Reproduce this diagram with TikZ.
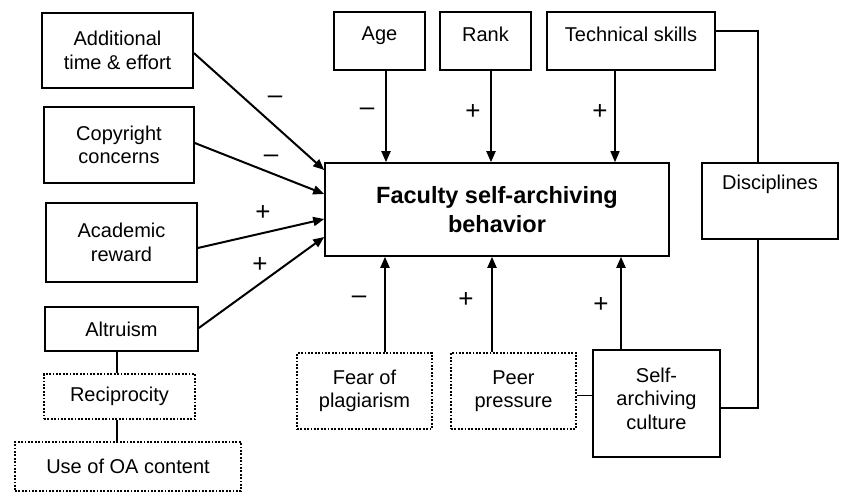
\documentclass[tikz,border=0pt]{standalone}
\usepackage{fontspec}
\setmainfont{Liberation Sans}
\usetikzlibrary{arrows.meta}
\begin{document}
\begin{tikzpicture}[x=1pt,y=-1pt,
  box/.style={draw,line width=1.6pt,rectangle,inner sep=0pt,align=center,font=\fontsize{20}{23.5}\selectfont},
  dbox/.style={box,line width=2.2pt,dash pattern=on 1.8pt off 1.6pt},
  arr/.style={line width=2pt,-{Triangle[length=11pt,width=9pt]}},
  tarr/.style={line width=1.5pt,-{Triangle[length=11pt,width=9pt]}},
  link/.style={line width=1.4pt},
  sgn/.style={inner sep=0pt,font=\fontsize{26}{26}\selectfont}]
\useasboundingbox (0,0) rectangle (843,493);
\node[box,minimum width=151pt,minimum height=75pt] (add) at (117.5,50.5) {Additional\\time \& effort};
\node[box,minimum width=150pt,minimum height=76pt] (copy) at (119,145) {Copyright\\concerns};
\node[box,minimum width=151pt,minimum height=79pt] (acad) at (121.5,242.5) {Academic\\reward};
\node[box,minimum width=153pt,minimum height=44pt] (alt) at (121.5,329) {Altruism};
\node[dbox,minimum width=151pt,minimum height=45pt] (rec) at (119.5,396.5) {Reciprocity};
\node[dbox,minimum width=226pt,minimum height=49pt] (use) at (128,466.5) {Use of OA content};
\node[box,minimum width=344pt,minimum height=93pt,font=\fontsize{23.5}{29}\selectfont\bfseries] (main) at (497,209.5) {Faculty self-archiving\\behavior};
\node[box,minimum width=91pt,minimum height=58pt,text depth=14pt] (age) at (379.5,41) {Age};
\node[box,minimum width=91pt,minimum height=58pt,text depth=14pt] (rank) at (485.5,41) {Rank};
\node[box,minimum width=168pt,minimum height=58pt,text depth=14pt] (tech) at (631,41) {Technical skills};
\node[box,minimum width=136pt,minimum height=76pt,label={[anchor=north,inner sep=0pt,yshift=-13pt,font=\fontsize{20}{23.5}\selectfont]north:Disciplines}] (disc) at (770,201) {};
\node[dbox,minimum width=135pt,minimum height=76pt] (fear) at (364.5,391) {Fear of\\plagiarism};
\node[dbox,minimum width=125pt,minimum height=76pt] (peer) at (513.5,391) {Peer\\pressure};
\node[box,minimum width=127pt,minimum height=107pt,text depth=10pt] (self) at (656.5,403.5) {Self-\\archiving\\culture};
% left arrows
\draw[arr] ([yshift=-2.5pt]add.east) -- (main.west |- 0,170) coordinate (e1);
\draw[arr] ([yshift=2pt]copy.east) -- (main.west |- 0,194) coordinate (e2);
\draw[arr] ([yshift=-5.5pt]acad.east) -- (main.west |- 0,219) coordinate (e3);
\draw[arr] ([yshift=1pt]alt.east) -- (main.west |- 0,237) coordinate (e4);
% top arrows
\draw[arr] ([xshift=6.5pt]age.south) -- ([xshift=6.5pt]age.south |- main.north);
\draw[arr] ([xshift=5.5pt]rank.south) -- ([xshift=5.5pt]rank.south |- main.north);
\draw[tarr] ([xshift=-16pt]tech.south) -- ([xshift=-16pt]tech.south |- main.north);
% bottom arrows
\draw[arr] ([xshift=20.5pt]fear.north) -- ([xshift=20.5pt]fear.north |- main.south);
\draw[arr] ([xshift=-21.5pt]peer.north) -- ([xshift=-21.5pt]peer.north |- main.south);
\draw[arr] ([xshift=-35.5pt]self.north) -- ([xshift=-35.5pt]self.north |- main.south);
% links
\draw[link] ([yshift=10pt]tech.east) -| ([xshift=-12pt]disc.north);
\draw[link] ([xshift=-12pt]disc.south) |- ([yshift=-4.5pt]self.east);
\draw[line width=1pt] ([yshift=-4pt]peer.east) -- ([yshift=-4pt]peer.east -| self.west);
\draw[link] ([xshift=-4.5pt]alt.south) -- ([xshift=-4.5pt]alt.south |- rec.north);
\draw[link] ([xshift=-2.5pt]rec.south) -- ([xshift=-2.5pt]rec.south |- use.north);
% signs
\node[sgn] (s1) at (275,100) {–};
\node[sgn] (s2) at (271,159) {–};
\node[sgn] (s3) at (263,213) {+};
\node[sgn] (s4) at (260,265) {+};
\node[sgn] (s5) at (367,112) {–};
\node[sgn] (s6) at (473,112) {+};
\node[sgn] (s7) at (600,112) {+};
\node[sgn] (s8) at (359,300) {–};
\node[sgn] (s9) at (466,300) {+};
\node[sgn] (s10) at (601,305) {+};
\end{tikzpicture}
\end{document}
